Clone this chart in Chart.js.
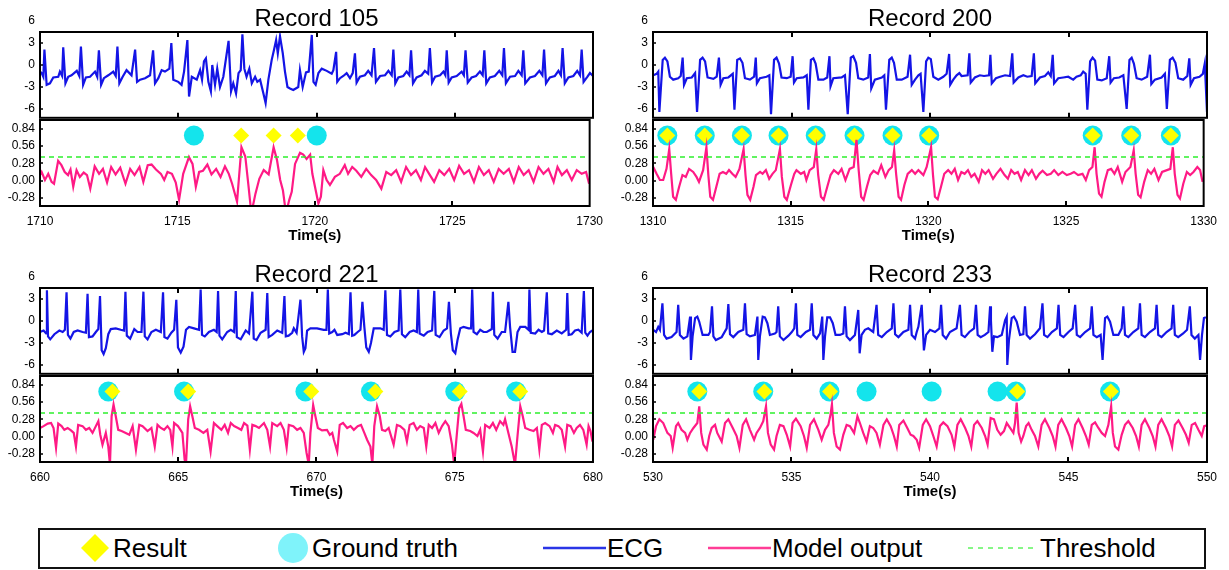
<!DOCTYPE html>
<html>
<head>
<meta charset="utf-8">
<script src="https://cdn.jsdelivr.net/npm/chart.js@4.4.1/dist/chart.umd.min.js"></script>
<style>
  body { margin:0; width:1229px; height:570px; background:#fff; position:relative; overflow:hidden;
         font-family: Arial, "Liberation Sans", sans-serif; color:#000; }
  .plot { position:absolute; }
  .ttl { position:absolute; width:400px; text-align:center; font-size:24px; line-height:24px; }
  #legend { position:absolute; left:38px; top:528px; width:1168px; height:41px; box-sizing:border-box;
            border:2px solid #111; }
  .lg { position:absolute; top:533px; font-size:26px; line-height:30px; white-space:nowrap; }
  .sym { position:absolute; }
</style>
</head>
<body>
<div id="figure"></div>

<div id="legend"></div>
<svg class="sym" style="left:80px;top:533px" width="30" height="30"><polygon points="15,1 29,15 15,29 1,15" fill="#ffff00"/></svg>
<div class="lg" style="left:113px">Result</div>
<svg class="sym" style="left:278px;top:533px" width="30" height="30"><circle cx="15" cy="15" r="15" fill="#7ff3fa"/></svg>
<div class="lg" style="left:312px">Ground truth</div>
<svg class="sym" style="left:543px;top:538px" width="64" height="20"><line x1="0" y1="10" x2="63" y2="10" stroke="#2a35e6" stroke-width="2.5"/></svg>
<div class="lg" style="left:607px">ECG</div>
<svg class="sym" style="left:708px;top:538px" width="64" height="20"><line x1="0" y1="10" x2="63" y2="10" stroke="#ff3d96" stroke-width="2.5"/></svg>
<div class="lg" style="left:772px">Model output</div>
<svg class="sym" style="left:968px;top:538px" width="70" height="20"><line x1="0" y1="10" x2="68" y2="10" stroke="#86f786" stroke-width="2" stroke-dasharray="5 5"/></svg>
<div class="lg" style="left:1040px">Threshold</div>

<script>
// ---- data: [time (s), value] ----
const ecg105 = [[1710.00,-0.9],[1710.06,-1.1],[1710.12,-1.6],[1710.16,2.1],[1710.24,-2.7],[1710.36,-2.5],[1710.48,-1.7],[1710.66,-1.6],[1710.72,-0.9],[1710.80,-1.5],[1710.84,2.4],[1710.92,-2.5],[1711.02,-1.6],[1711.14,-1.4],[1711.33,-0.8],[1711.42,-1.5],[1711.48,2.5],[1711.56,-2.7],[1711.66,-1.7],[1711.81,-1.6],[1711.99,-0.9],[1712.07,-1.6],[1712.13,2.0],[1712.21,-2.7],[1712.31,-1.8],[1712.47,-1.4],[1712.65,-0.9],[1712.74,-1.5],[1712.80,2.5],[1712.87,-2.5],[1712.99,-1.6],[1713.13,-0.7],[1713.31,-1.4],[1713.44,2.1],[1713.51,-2.3],[1713.62,-2.0],[1713.80,-1.8],[1713.98,-1.4],[1714.09,2.0],[1714.16,-2.5],[1714.28,-1.8],[1714.40,-0.7],[1714.52,-0.9],[1714.68,-0.5],[1714.75,3.0],[1714.82,-2.0],[1715.00,-2.3],[1715.12,-2.7],[1715.21,-0.9],[1715.33,3.4],[1715.39,-4.3],[1715.49,-1.6],[1715.67,-2.0],[1715.79,-0.7],[1715.86,-2.0],[1715.93,0.5],[1716.00,0.9],[1716.09,-2.3],[1716.18,-3.6],[1716.23,0.0],[1716.33,-2.7],[1716.41,-0.5],[1716.51,-3.0],[1716.63,-1.6],[1716.82,3.3],[1716.91,-3.6],[1716.99,-2.5],[1717.09,-3.9],[1717.18,-1.1],[1717.26,-0.7],[1717.32,4.2],[1717.39,-0.5],[1717.47,-1.6],[1717.57,-0.5],[1717.66,-2.5],[1717.78,-1.6],[1717.86,-2.3],[1717.96,-2.0],[1718.08,-3.9],[1718.16,-5.2],[1718.26,-2.0],[1718.38,0.7],[1718.46,2.0],[1718.54,3.4],[1718.60,1.6],[1718.68,3.9],[1718.78,1.6],[1718.86,-0.9],[1718.95,-3.0],[1719.04,-3.2],[1719.16,-3.4],[1719.34,-3.0],[1719.40,-0.7],[1719.50,-3.0],[1719.62,-1.0],[1719.72,-0.9],[1719.83,4.1],[1719.89,-2.3],[1719.97,-2.7],[1720.07,-1.1],[1720.19,-0.5],[1720.37,-0.8],[1720.55,-1.2],[1720.61,-0.7],[1720.71,1.8],[1720.75,-2.3],[1720.85,-1.8],[1720.97,-1.5],[1721.09,-1.1],[1721.21,-1.8],[1721.31,-1.1],[1721.39,1.6],[1721.45,-2.4],[1721.57,-1.6],[1721.75,-1.4],[1721.87,-0.8],[1721.99,-1.4],[1722.08,2.3],[1722.15,-2.3],[1722.30,-1.5],[1722.48,-1.4],[1722.60,-0.8],[1722.72,-1.4],[1722.78,2.1],[1722.85,-2.5],[1722.96,-1.7],[1723.14,-1.5],[1723.26,-0.9],[1723.36,-1.4],[1723.42,2.0],[1723.49,-2.5],[1723.62,-1.7],[1723.80,-1.4],[1723.92,-0.8],[1724.04,-1.2],[1724.10,2.3],[1724.18,-2.4],[1724.29,-1.6],[1724.47,-1.4],[1724.59,-0.9],[1724.66,-1.4],[1724.71,2.0],[1724.78,-2.4],[1724.89,-1.7],[1725.07,-1.5],[1725.25,-0.9],[1725.33,-1.4],[1725.39,2.0],[1725.47,-2.4],[1725.61,-1.7],[1725.77,-1.5],[1725.91,-0.9],[1726.01,-1.4],[1726.07,2.0],[1726.14,-2.5],[1726.27,-1.7],[1726.45,-1.5],[1726.61,-0.8],[1726.72,-1.4],[1726.78,2.3],[1726.85,-2.5],[1727.00,-1.6],[1727.18,-1.5],[1727.30,-0.8],[1727.42,-1.4],[1727.48,2.0],[1727.55,-2.5],[1727.72,-1.7],[1727.90,-1.5],[1728.06,-0.8],[1728.17,-1.4],[1728.23,2.1],[1728.30,-2.5],[1728.44,-1.7],[1728.62,-1.5],[1728.75,-0.8],[1728.84,-1.4],[1728.90,2.3],[1728.98,-2.5],[1729.11,-1.7],[1729.29,-1.5],[1729.43,-0.8],[1729.53,-1.4],[1729.59,2.1],[1729.66,-2.3],[1729.80,-1.6],[1729.89,-1.1],[1730.00,-1.5]];
const out105 = [[1710.00,0.09],[1710.06,0.14],[1710.18,0.01],[1710.30,0.11],[1710.42,-0.02],[1710.51,-0.05],[1710.66,0.32],[1710.78,0.25],[1710.90,0.14],[1711.02,0.09],[1711.11,0.18],[1711.21,-0.10],[1711.33,0.17],[1711.45,0.06],[1711.59,0.13],[1711.71,0.09],[1711.83,-0.13],[1711.99,0.23],[1712.15,0.11],[1712.29,0.19],[1712.44,-0.03],[1712.59,0.22],[1712.75,0.10],[1712.92,0.21],[1713.11,-0.05],[1713.28,0.19],[1713.44,0.09],[1713.62,0.22],[1713.76,-0.02],[1713.92,0.25],[1714.06,0.26],[1714.22,0.18],[1714.40,0.11],[1714.52,0.01],[1714.64,0.14],[1714.80,0.11],[1714.94,-0.03],[1715.06,-0.31],[1715.21,0.11],[1715.42,0.38],[1715.55,0.27],[1715.67,-0.10],[1715.79,0.14],[1715.93,0.16],[1716.09,0.26],[1716.24,0.10],[1716.41,0.19],[1716.57,0.06],[1716.73,0.23],[1716.87,0.11],[1716.99,-0.05],[1717.17,-0.34],[1717.33,0.54],[1717.47,0.39],[1717.59,-0.10],[1717.69,-0.53],[1717.84,-0.21],[1717.98,0.03],[1718.14,0.17],[1718.32,0.10],[1718.50,0.54],[1718.62,0.34],[1718.74,0.01],[1718.84,-0.16],[1718.95,-0.53],[1719.07,-0.31],[1719.16,-0.18],[1719.28,0.27],[1719.46,0.45],[1719.58,0.42],[1719.70,0.35],[1719.83,0.42],[1719.91,0.11],[1720.03,-0.15],[1720.13,-0.37],[1720.22,-0.26],[1720.31,0.17],[1720.43,0.01],[1720.55,-0.07],[1720.73,0.06],[1720.91,0.11],[1721.09,0.25],[1721.21,0.11],[1721.36,0.22],[1721.51,0.16],[1721.69,0.06],[1721.87,0.19],[1722.05,0.09],[1722.23,0.01],[1722.42,-0.13],[1722.60,0.14],[1722.78,0.09],[1722.96,0.17],[1723.14,-0.02],[1723.32,0.22],[1723.50,0.09],[1723.68,0.17],[1723.86,0.01],[1724.01,0.22],[1724.16,0.11],[1724.34,-0.02],[1724.53,0.17],[1724.71,0.09],[1724.89,0.19],[1725.07,0.01],[1725.25,0.24],[1725.43,0.11],[1725.61,0.17],[1725.79,-0.02],[1725.97,0.22],[1726.15,0.09],[1726.33,0.17],[1726.51,-0.02],[1726.69,0.19],[1726.87,0.11],[1727.06,0.19],[1727.24,-0.02],[1727.42,0.22],[1727.60,0.09],[1727.78,0.17],[1727.96,-0.02],[1728.14,0.22],[1728.32,0.11],[1728.50,0.19],[1728.69,-0.02],[1728.83,0.22],[1728.99,0.09],[1729.17,0.17],[1729.35,0.01],[1729.53,0.17],[1729.71,0.11],[1729.87,0.14],[1729.98,-0.05]];
const gt105 = [1715.60, 1720.07];
const res105 = [1717.32, 1718.50, 1719.38];

const ecg200 = [[1310.01,-1.4],[1310.13,-1.2],[1310.19,-0.9],[1310.23,-6.4],[1310.35,0.7],[1310.43,1.0],[1310.52,0.5],[1310.61,-1.6],[1310.73,-2.0],[1310.91,-1.8],[1311.00,-1.5],[1311.07,1.0],[1311.12,-2.7],[1311.22,-1.8],[1311.40,-1.7],[1311.52,-1.1],[1311.59,-6.4],[1311.70,0.7],[1311.79,1.0],[1311.88,0.5],[1311.97,-1.7],[1312.18,-1.9],[1312.30,-1.6],[1312.38,1.0],[1312.44,-2.7],[1312.54,-1.8],[1312.72,-1.7],[1312.88,-1.2],[1312.94,-6.1],[1313.04,0.7],[1313.14,0.9],[1313.23,0.3],[1313.32,-1.8],[1313.50,-2.0],[1313.65,-1.6],[1313.71,1.0],[1313.75,-2.5],[1313.86,-1.8],[1314.10,-1.6],[1314.20,-1.4],[1314.26,-6.7],[1314.37,0.7],[1314.46,1.0],[1314.55,0.2],[1314.64,-1.7],[1314.83,-1.8],[1314.97,-1.6],[1315.04,1.2],[1315.09,-2.4],[1315.19,-1.8],[1315.43,-1.7],[1315.55,-1.4],[1315.61,-6.1],[1315.70,0.7],[1315.79,0.9],[1315.87,0.2],[1315.97,-2.0],[1316.15,-2.0],[1316.29,-1.7],[1316.37,1.2],[1316.41,-2.9],[1316.51,-1.8],[1316.81,-1.7],[1316.93,-1.4],[1317.03,-6.7],[1317.14,1.0],[1317.23,1.2],[1317.33,0.3],[1317.41,-1.8],[1317.59,-2.0],[1317.77,-1.7],[1317.83,1.5],[1317.88,-3.2],[1318.01,-2.0],[1318.26,-1.7],[1318.35,-1.4],[1318.41,-6.1],[1318.53,0.7],[1318.62,1.0],[1318.70,0.3],[1318.80,-2.0],[1318.98,-2.0],[1319.19,-1.6],[1319.28,1.4],[1319.34,-2.7],[1319.46,-2.0],[1319.58,-1.4],[1319.66,-1.2],[1319.76,-6.4],[1319.86,0.5],[1319.94,1.0],[1320.03,0.8],[1320.12,-1.6],[1320.30,-2.0],[1320.48,-1.6],[1320.60,-1.2],[1320.69,1.5],[1320.73,-2.7],[1320.84,-2.0],[1320.96,-1.4],[1321.06,-1.1],[1321.14,-1.5],[1321.36,-1.4],[1321.42,1.6],[1321.47,-2.4],[1321.62,-1.7],[1321.80,-1.4],[1321.95,-1.5],[1322.13,-1.4],[1322.18,1.4],[1322.23,-2.5],[1322.38,-1.8],[1322.53,-1.6],[1322.71,-1.4],[1322.89,-1.5],[1322.97,1.6],[1323.02,-2.4],[1323.19,-1.7],[1323.37,-1.4],[1323.51,-1.6],[1323.67,-1.5],[1323.75,1.6],[1323.80,-2.5],[1323.97,-1.7],[1324.15,-1.5],[1324.27,-1.0],[1324.36,-1.5],[1324.43,1.4],[1324.48,-2.5],[1324.63,-1.8],[1324.81,-1.7],[1324.99,-1.6],[1325.17,-2.0],[1325.29,-1.6],[1325.44,-1.4],[1325.53,-0.9],[1325.62,-1.2],[1325.68,-6.1],[1325.78,0.5],[1325.87,1.0],[1325.96,0.6],[1326.04,-2.0],[1326.20,-2.1],[1326.38,-1.8],[1326.47,1.2],[1326.52,-2.4],[1326.64,-1.8],[1326.83,-1.7],[1326.98,-1.4],[1327.10,-6.0],[1327.20,0.7],[1327.28,1.0],[1327.36,0.2],[1327.46,-1.8],[1327.64,-2.0],[1327.84,-1.6],[1327.94,1.4],[1327.99,-2.6],[1328.12,-2.0],[1328.36,-1.7],[1328.48,-1.2],[1328.55,-6.0],[1328.66,0.7],[1328.76,1.0],[1328.86,0.3],[1328.96,-1.8],[1329.14,-2.0],[1329.29,-1.5],[1329.36,0.9],[1329.41,-2.7],[1329.53,-1.8],[1329.73,-1.6],[1329.85,-1.2],[1329.92,0.2],[1330.00,-6.4]];
const out200 = [[1310.01,0.22],[1310.13,0.11],[1310.25,0.01],[1310.37,0.01],[1310.49,0.19],[1310.59,0.51],[1310.66,0.11],[1310.73,-0.26],[1310.83,-0.31],[1310.95,-0.10],[1311.07,0.09],[1311.19,0.06],[1311.31,0.19],[1311.46,0.14],[1311.58,0.06],[1311.67,-0.02],[1311.82,0.17],[1311.94,0.54],[1312.01,0.09],[1312.08,-0.26],[1312.18,-0.31],[1312.30,-0.10],[1312.42,0.11],[1312.54,0.14],[1312.66,0.11],[1312.76,0.17],[1312.88,0.11],[1313.00,0.06],[1313.14,0.19],[1313.29,0.51],[1313.36,0.09],[1313.43,-0.23],[1313.53,-0.31],[1313.65,-0.10],[1313.74,0.09],[1313.89,0.14],[1313.98,0.11],[1314.10,0.17],[1314.22,0.03],[1314.34,0.11],[1314.46,0.17],[1314.61,0.51],[1314.68,0.06],[1314.77,-0.26],[1314.86,-0.31],[1315.01,-0.07],[1315.13,0.11],[1315.21,0.17],[1315.37,0.11],[1315.49,0.14],[1315.57,0.01],[1315.69,0.17],[1315.84,0.22],[1315.93,0.51],[1316.00,0.09],[1316.10,-0.26],[1316.20,-0.31],[1316.33,-0.10],[1316.45,0.09],[1316.57,0.17],[1316.73,0.11],[1316.85,0.19],[1316.99,0.01],[1317.14,0.19],[1317.29,0.22],[1317.39,0.66],[1317.47,0.17],[1317.56,-0.26],[1317.65,-0.31],[1317.77,-0.10],[1317.89,0.09],[1318.01,0.16],[1318.17,0.11],[1318.29,0.25],[1318.44,0.06],[1318.56,0.17],[1318.68,0.22],[1318.76,0.49],[1318.83,0.11],[1318.92,-0.26],[1319.01,-0.31],[1319.13,-0.07],[1319.25,0.11],[1319.40,0.17],[1319.52,0.11],[1319.64,0.17],[1319.82,0.09],[1319.94,0.22],[1320.10,0.54],[1320.17,0.09],[1320.24,-0.26],[1320.34,-0.30],[1320.46,-0.10],[1320.58,0.11],[1320.72,0.17],[1320.84,0.11],[1320.96,0.19],[1321.08,0.01],[1321.20,0.14],[1321.32,0.11],[1321.44,0.17],[1321.56,0.06],[1321.68,0.11],[1321.83,-0.02],[1321.95,0.17],[1322.07,0.11],[1322.19,0.17],[1322.35,0.03],[1322.47,0.11],[1322.62,0.19],[1322.77,0.09],[1322.89,0.03],[1323.01,0.17],[1323.13,0.11],[1323.25,0.14],[1323.37,0.01],[1323.51,0.17],[1323.64,0.09],[1323.76,0.17],[1323.91,0.03],[1324.03,0.11],[1324.15,0.16],[1324.31,0.09],[1324.45,0.11],[1324.57,0.17],[1324.72,0.09],[1324.87,0.14],[1325.03,0.09],[1325.17,0.11],[1325.29,0.14],[1325.44,0.09],[1325.60,0.11],[1325.72,0.01],[1325.84,0.17],[1325.96,0.22],[1326.04,0.54],[1326.11,0.11],[1326.20,-0.21],[1326.29,-0.26],[1326.40,-0.02],[1326.52,0.17],[1326.64,0.19],[1326.76,0.11],[1326.88,0.22],[1327.04,-0.02],[1327.16,0.14],[1327.34,0.22],[1327.46,0.49],[1327.53,0.11],[1327.62,-0.23],[1327.71,-0.27],[1327.84,-0.02],[1327.97,0.17],[1328.09,0.11],[1328.21,0.19],[1328.36,0.01],[1328.49,0.14],[1328.79,0.19],[1328.88,0.54],[1328.95,0.11],[1329.05,-0.23],[1329.14,-0.29],[1329.26,-0.05],[1329.39,0.14],[1329.51,0.09],[1329.63,0.14],[1329.77,0.22],[1329.87,0.17],[1329.96,-0.02]];
const gt200 = [1310.52, 1311.88, 1313.23, 1314.56, 1315.91, 1317.32, 1318.70, 1320.03, 1325.97, 1327.37, 1328.81];
const res200 = [1310.52, 1311.88, 1313.23, 1314.56, 1315.91, 1317.32, 1318.70, 1320.03, 1325.97, 1327.37, 1328.81];

const ecg221 = [[660.00,-1.5],[660.13,-1.3],[660.22,-1.7],[660.25,4.2],[660.29,-2.1],[660.37,-2.5],[660.52,-1.8],[660.70,-1.3],[660.82,-1.5],[660.90,-1.2],[660.96,3.9],[661.01,-1.9],[661.10,-2.4],[661.22,-1.5],[661.36,-1.3],[661.54,-1.5],[661.66,-1.6],[661.72,3.7],[661.77,-2.2],[661.90,-2.1],[662.02,-1.5],[662.11,-1.1],[662.17,3.4],[662.23,-4.0],[662.30,-4.5],[662.38,-3.7],[662.47,-1.8],[662.56,-1.1],[662.74,-1.0],[662.92,-1.2],[663.04,-1.3],[663.09,4.0],[663.14,-2.0],[663.26,-2.4],[663.41,-1.1],[663.53,-1.5],[663.67,-1.5],[663.74,4.0],[663.79,-2.1],[663.89,-2.5],[664.03,-1.5],[664.19,-1.2],[664.37,-1.5],[664.45,3.9],[664.50,-2.2],[664.61,-2.4],[664.75,-1.6],[664.85,-1.2],[664.93,2.9],[664.99,-3.6],[665.09,-4.3],[665.19,-3.5],[665.28,-1.2],[665.39,-0.8],[665.57,-1.0],[665.75,-1.2],[665.81,4.3],[665.86,-1.9],[665.96,-2.1],[666.11,-1.5],[666.29,-1.2],[666.39,-1.5],[666.44,4.1],[666.49,-2.0],[666.59,-2.5],[666.77,-1.5],[666.90,-1.2],[667.02,-1.5],[667.08,4.1],[667.12,-2.2],[667.26,-2.5],[667.44,-1.3],[667.56,-1.7],[667.68,4.0],[667.73,-2.4],[667.83,-2.6],[667.98,-1.6],[668.16,-1.2],[668.22,3.8],[668.27,-2.2],[668.40,-1.9],[668.58,-1.3],[668.76,-1.6],[668.84,3.4],[668.89,-2.1],[668.99,-2.0],[669.12,-1.6],[669.18,-1.0],[669.28,-1.6],[669.42,2.9],[669.48,-2.1],[669.54,-4.2],[669.60,-3.7],[669.66,-1.3],[669.78,-1.0],[670.02,-1.0],[670.26,-1.2],[670.36,-1.2],[670.41,4.3],[670.46,-1.7],[670.57,-1.5],[670.65,-1.2],[670.75,-1.9],[670.93,-1.8],[671.05,-1.6],[671.17,-1.8],[671.23,3.9],[671.29,-2.0],[671.37,-1.9],[671.49,-1.5],[671.59,-1.2],[671.66,2.6],[671.73,-0.8],[671.80,-3.6],[671.89,-4.2],[671.97,-3.0],[672.07,-1.0],[672.31,-1.0],[672.43,-1.2],[672.49,4.2],[672.55,-1.9],[672.67,-2.1],[672.82,-1.5],[672.97,-1.3],[673.03,4.3],[673.09,-1.8],[673.21,-2.2],[673.37,-1.5],[673.51,-1.3],[673.63,-1.5],[673.68,4.3],[673.73,-1.7],[673.88,-2.0],[674.02,-1.5],[674.18,-1.3],[674.26,4.1],[674.31,-1.9],[674.45,-2.2],[674.60,-1.3],[674.72,-1.0],[674.79,2.6],[674.86,-1.7],[674.93,-4.0],[675.02,-4.4],[675.10,-2.6],[675.20,-1.0],[675.32,-0.8],[675.50,-1.0],[675.59,-1.0],[675.63,4.3],[675.68,-1.5],[675.80,-1.8],[675.92,-1.2],[676.04,-1.5],[676.16,-1.5],[676.34,-1.1],[676.38,4.0],[676.43,-1.9],[676.55,-2.4],[676.70,-1.5],[676.82,-1.5],[676.94,2.6],[677.00,-0.8],[677.09,-4.2],[677.18,-4.2],[677.27,-1.5],[677.37,-0.8],[677.55,-0.8],[677.67,-1.2],[677.70,4.3],[677.75,-1.6],[677.91,-1.7],[678.03,-1.2],[678.15,-1.5],[678.23,-1.3],[678.33,3.9],[678.38,-1.7],[678.51,-1.8],[678.69,-1.3],[678.87,-1.7],[679.03,-1.2],[679.07,3.8],[679.12,-1.9],[679.23,-1.8],[679.35,-1.3],[679.47,-1.2],[679.59,-1.6],[679.67,4.1],[679.72,-1.6],[679.80,-2.0],[679.89,-1.5],[679.98,-1.3]];
const out221 = [[660.00,0.14],[660.13,0.17],[660.28,0.21],[660.40,0.22],[660.49,0.14],[660.58,-0.18],[660.66,0.21],[660.78,0.17],[660.88,0.11],[661.00,0.14],[661.12,0.10],[661.22,0.06],[661.30,-0.16],[661.38,0.19],[661.54,0.17],[661.66,0.11],[661.78,0.14],[661.90,0.06],[662.02,0.17],[662.11,0.25],[662.18,0.03],[662.26,-0.13],[662.38,0.06],[662.47,-0.16],[662.53,-0.45],[662.59,0.33],[662.66,0.52],[662.74,0.33],[662.83,0.11],[662.95,0.09],[663.10,0.06],[663.23,0.03],[663.35,0.17],[663.47,-0.21],[663.59,0.19],[663.71,0.17],[663.89,0.09],[664.03,0.14],[664.15,-0.16],[664.25,0.19],[664.37,0.14],[664.49,0.11],[664.61,0.17],[664.71,0.11],[664.79,-0.16],[664.85,0.22],[664.99,0.17],[665.15,0.06],[665.23,-0.37],[665.28,-0.45],[665.36,0.28],[665.43,0.49],[665.51,0.33],[665.60,0.14],[665.75,0.11],[665.91,0.06],[666.05,0.11],[666.17,-0.24],[666.29,0.22],[666.41,0.17],[666.56,0.11],[666.68,0.19],[666.80,0.06],[666.90,0.22],[667.02,0.17],[667.16,0.14],[667.28,0.11],[667.38,0.22],[667.50,0.18],[667.59,-0.21],[667.68,0.19],[667.80,0.17],[667.92,0.14],[668.10,0.22],[668.22,0.11],[668.32,-0.16],[668.40,0.22],[668.58,0.17],[668.70,0.22],[668.82,0.11],[668.92,-0.18],[669.00,0.19],[669.16,0.17],[669.30,0.11],[669.42,0.14],[669.54,0.06],[669.64,-0.26],[669.72,-0.45],[669.78,0.06],[669.88,0.51],[669.96,0.33],[670.05,0.14],[670.20,0.10],[670.38,0.11],[670.48,0.03],[670.57,0.06],[670.63,-0.05],[670.75,-0.24],[670.84,0.19],[670.96,0.22],[671.11,0.14],[671.23,0.17],[671.35,0.11],[671.49,0.17],[671.61,0.19],[671.73,0.06],[671.83,-0.05],[671.95,-0.16],[672.02,-0.45],[672.09,0.17],[672.19,0.49],[672.29,0.33],[672.37,0.11],[672.49,0.09],[672.61,0.14],[672.79,-0.13],[672.91,0.19],[673.03,0.17],[673.18,0.11],[673.27,-0.08],[673.37,0.19],[673.51,0.22],[673.63,0.11],[673.75,0.17],[673.88,0.14],[673.97,-0.16],[674.06,0.19],[674.18,0.14],[674.30,0.22],[674.42,0.06],[674.54,0.17],[674.66,0.25],[674.78,0.17],[674.90,-0.13],[674.98,-0.45],[675.08,0.06],[675.16,0.46],[675.24,0.53],[675.32,0.33],[675.40,0.11],[675.56,0.09],[675.68,0.06],[675.82,0.01],[675.92,0.11],[676.02,-0.24],[676.10,0.19],[676.26,0.14],[676.38,0.22],[676.50,0.11],[676.64,0.25],[676.76,0.19],[676.82,0.28],[676.94,0.06],[677.06,-0.16],[677.18,-0.45],[677.27,0.01],[677.37,0.49],[677.46,0.33],[677.55,0.14],[677.70,0.11],[677.85,0.09],[677.97,0.14],[678.06,-0.21],[678.15,0.19],[678.27,0.22],[678.43,0.17],[678.55,0.06],[678.63,0.19],[678.75,0.17],[678.87,0.11],[678.99,-0.16],[679.07,0.19],[679.19,0.17],[679.31,0.06],[679.41,0.14],[679.53,0.19],[679.65,0.11],[679.77,-0.13],[679.84,0.17],[679.91,0.09],[679.98,-0.08]];
const gt221 = [662.47, 665.21, 669.60, 671.97, 675.02, 677.22];
const res221 = [662.62, 665.36, 669.81, 672.13, 675.18, 677.37];

const ecg233 = [[530.01,-1.2],[530.11,-1.5],[530.19,-0.8],[530.25,-1.2],[530.34,2.4],[530.40,-1.9],[530.49,-2.4],[530.67,-2.2],[530.85,-1.5],[530.91,2.2],[530.97,-1.9],[531.10,-2.4],[531.24,-2.1],[531.34,0.6],[531.37,-5.3],[531.43,-2.1],[531.52,0.4],[531.60,0.6],[531.67,-0.1],[531.79,-1.9],[532.00,-1.9],[532.06,-1.5],[532.13,2.0],[532.18,-2.1],[532.27,-2.6],[532.48,-2.2],[532.66,-1.0],[532.72,2.3],[532.78,-1.8],[532.90,-2.2],[533.08,-1.5],[533.26,-1.2],[533.32,2.4],[533.38,-1.8],[533.50,-2.1],[533.68,-1.9],[533.77,0.6],[533.80,-5.3],[533.86,-2.1],[533.96,0.6],[534.04,0.5],[534.13,-0.3],[534.22,-1.9],[534.40,-1.7],[534.46,-1.5],[534.52,2.0],[534.58,-2.1],[534.71,-2.6],[534.89,-2.0],[535.01,-1.5],[535.10,-1.0],[535.16,2.4],[535.21,-1.9],[535.33,-2.2],[535.52,-1.5],[535.67,-1.2],[535.73,2.4],[535.79,-1.9],[535.91,-2.4],[536.03,-1.7],[536.11,0.6],[536.15,-5.3],[536.21,-2.1],[536.29,0.5],[536.39,0.5],[536.49,-0.3],[536.59,-1.9],[536.75,-1.9],[536.87,-1.7],[536.93,2.0],[536.99,-2.1],[537.11,-2.6],[537.29,-1.9],[537.41,1.5],[537.46,-4.4],[537.53,-1.9],[537.65,-1.2],[537.77,-1.0],[537.95,-1.5],[538.07,2.2],[538.13,-1.9],[538.26,-2.2],[538.44,-1.5],[538.62,-1.0],[538.68,2.4],[538.74,-1.8],[538.86,-2.2],[539.04,-1.5],[539.22,-1.2],[539.28,2.2],[539.34,-1.9],[539.46,-2.4],[539.52,-1.5],[539.58,-0.8],[539.70,2.2],[539.78,-4.0],[539.86,-1.9],[540.00,-1.2],[540.18,-1.5],[540.34,-1.0],[540.40,2.2],[540.46,-1.9],[540.58,-2.4],[540.72,-1.5],[540.96,-1.0],[541.08,2.2],[541.14,-1.9],[541.26,-2.2],[541.42,-1.5],[541.59,-1.0],[541.66,2.2],[541.72,-1.9],[541.83,-2.2],[541.98,-1.9],[542.11,-1.5],[542.17,2.0],[542.20,0.1],[542.25,-4.2],[542.31,-2.1],[542.43,-2.2],[542.59,-1.9],[542.71,0.1],[542.77,0.6],[542.79,-6.0],[542.85,-2.6],[542.95,0.4],[543.03,0.6],[543.13,-0.1],[543.25,-1.9],[543.37,-1.8],[543.43,2.0],[543.49,-1.9],[543.61,-2.4],[543.79,-1.8],[543.97,-1.0],[544.06,2.4],[544.12,-1.9],[544.24,-2.2],[544.40,-1.5],[544.58,-1.0],[544.64,2.2],[544.70,-1.9],[544.82,-2.2],[545.00,-1.5],[545.15,-1.0],[545.24,2.2],[545.30,-1.9],[545.42,-2.2],[545.60,-1.5],[545.78,-1.0],[545.84,2.0],[545.90,-1.9],[546.02,-2.2],[546.16,-1.9],[546.23,-5.3],[546.32,0.4],[546.40,0.6],[546.50,-0.1],[546.62,-1.9],[546.80,-1.9],[546.92,-1.0],[546.98,2.0],[547.04,-1.9],[547.16,-2.2],[547.34,-1.5],[547.52,-1.0],[547.58,2.4],[547.64,-1.9],[547.76,-2.2],[547.94,-1.5],[548.12,-1.0],[548.18,2.2],[548.24,-1.9],[548.36,-2.2],[548.54,-1.5],[548.72,-1.0],[548.78,2.2],[548.84,-1.9],[548.96,-2.2],[549.14,-1.7],[549.28,-1.2],[549.38,2.0],[549.44,-1.9],[549.56,-2.4],[549.69,-1.9],[549.75,-5.3],[549.82,-1.9],[549.89,0.4],[549.96,0.5]];
const out233 = [[530.01,-0.05],[530.11,0.17],[530.23,0.28],[530.37,0.22],[530.52,0.06],[530.64,0.01],[530.71,-0.18],[530.83,0.17],[530.91,0.22],[531.03,0.11],[531.16,0.06],[531.24,-0.05],[531.34,0.06],[531.46,0.14],[531.60,0.22],[531.67,0.49],[531.74,0.06],[531.82,-0.13],[531.94,-0.21],[532.03,0.01],[532.12,0.14],[532.24,0.19],[532.32,0.06],[532.48,-0.08],[532.60,0.22],[532.72,0.28],[532.88,0.14],[533.02,0.01],[533.12,-0.18],[533.24,0.19],[533.36,0.28],[533.50,0.11],[533.65,-0.05],[533.74,0.06],[533.86,0.14],[533.98,0.25],[534.08,0.49],[534.15,0.06],[534.25,-0.13],[534.37,-0.21],[534.46,0.01],[534.58,0.19],[534.71,0.17],[534.83,0.03],[534.95,-0.16],[535.04,0.22],[535.16,0.29],[535.33,0.17],[535.45,0.01],[535.55,-0.18],[535.67,0.19],[535.81,0.28],[535.97,0.11],[536.09,-0.05],[536.21,0.11],[536.33,0.19],[536.41,0.36],[536.46,0.52],[536.53,0.06],[536.63,-0.16],[536.75,-0.21],[536.87,0.03],[536.99,0.19],[537.11,0.17],[537.26,0.06],[537.38,0.33],[537.47,0.22],[537.59,0.06],[537.71,-0.08],[537.83,0.17],[537.95,0.14],[538.07,0.06],[538.19,-0.13],[538.32,0.19],[538.44,0.28],[538.58,0.17],[538.70,0.01],[538.80,-0.16],[538.89,0.19],[539.04,0.26],[539.18,0.14],[539.30,0.03],[539.40,0.01],[539.52,-0.05],[539.61,-0.18],[539.74,0.19],[539.86,0.28],[540.00,0.17],[540.12,0.01],[540.24,-0.16],[540.36,0.17],[540.48,0.23],[540.63,0.17],[540.78,0.03],[540.88,-0.16],[540.99,0.19],[541.11,0.28],[541.27,0.14],[541.39,0.01],[541.49,-0.16],[541.59,0.19],[541.71,0.25],[541.87,0.14],[541.99,0.01],[542.08,-0.13],[542.19,0.30],[542.31,0.28],[542.43,0.11],[542.55,0.03],[542.67,0.09],[542.77,0.22],[542.89,0.14],[543.01,0.06],[543.07,0.22],[543.13,0.55],[543.20,0.06],[543.29,-0.08],[543.37,0.01],[543.47,0.17],[543.56,0.22],[543.67,0.11],[543.79,0.01],[543.91,-0.16],[544.03,0.19],[544.15,0.28],[544.31,0.14],[544.43,0.01],[544.53,-0.16],[544.63,0.19],[544.75,0.28],[544.91,0.14],[545.03,0.01],[545.13,-0.16],[545.24,0.19],[545.36,0.28],[545.51,0.14],[545.63,0.01],[545.73,-0.13],[545.84,0.19],[545.96,0.23],[546.08,0.14],[546.20,0.06],[546.32,0.01],[546.44,0.19],[546.54,0.49],[546.60,0.06],[546.68,-0.16],[546.80,-0.21],[546.92,0.03],[547.04,0.19],[547.16,0.25],[547.32,0.14],[547.44,0.01],[547.54,-0.16],[547.64,0.19],[547.76,0.28],[547.92,0.14],[548.04,0.01],[548.14,-0.16],[548.24,0.19],[548.36,0.28],[548.52,0.14],[548.64,0.01],[548.74,-0.16],[548.84,0.19],[548.97,0.26],[549.12,0.14],[549.24,0.03],[549.34,-0.10],[549.45,0.19],[549.57,0.22],[549.69,0.11],[549.81,0.01],[549.90,0.17],[549.97,0.18]];
const gt233 = [531.60, 533.98, 536.37, 537.71, 540.06, 542.44, 543.10, 546.50];
const res233 = [531.67, 534.02, 536.39, 543.15, 546.53];

const ECG_TICKS = [6, 3, 0, -3, -6];
const OUT_TICKS = [0.84, 0.56, 0.28, 0.00, -0.28];
const THRESHOLD = 0.38;
const MARK_Y = 0.73;

// ---- layout ----
const ECG_RANGE = [-7.2, 4.5];
const OUT_RANGE = [-0.41, 0.98];
const AXIS_W = 45, PAD_T = 26, PAD_R = 18, PAD_B = 12, XAXIS_H = 40;

const panels = [
  { title: 'Record 105', ecg: ecg105, out: out105, gt: gt105, res: res105, t0: 1710, left: 40,  width: 553, top: 32 },
  { title: 'Record 200', ecg: ecg200, out: out200, gt: gt200, res: res200, t0: 1310, left: 653, width: 554, top: 32 },
  { title: 'Record 221', ecg: ecg221, out: out221, gt: gt221, res: res221, t0: 660,  left: 40,  width: 553, top: 288 },
  { title: 'Record 233', ecg: ecg233, out: out233, gt: gt233, res: res233, t0: 530,  left: 653, width: 554, top: 288 },
];
const ECG_H = 86, GAP = 2, OUT_H = 86;

Chart.defaults.font.family = 'Arial, "Liberation Sans", sans-serif';
Chart.defaults.color = '#000';

// box frame + inward tick marks
const framePlugin = {
  id: 'frame',
  afterDatasetsDraw(chart, args, opts) {
    const { ctx, chartArea: a, scales } = chart;
    const line = (x1, y1, x2, y2) => { ctx.beginPath(); ctx.moveTo(x1, y1); ctx.lineTo(x2, y2); ctx.stroke(); };
    ctx.save();
    ctx.strokeStyle = '#000';
    ctx.lineWidth = 2;
    (opts.xMarks || []).forEach(v => {
      const px = Math.round(scales.x.getPixelForValue(v));
      if (opts.topMarks) line(px, a.top, px, a.top + 5);
      line(px, a.bottom, px, a.bottom - 5);
    });
    ctx.lineWidth = 1.5;
    (opts.yMarks || []).forEach(v => {
      const py = Math.round(scales.y.getPixelForValue(v));
      if (py > a.top + 2 && py < a.bottom - 2) line(a.left, py, a.left + 3, py);
    });
    ctx.lineWidth = 2;
    ctx.strokeRect(a.left, a.top, a.right - a.left, a.bottom - a.top);
    ctx.restore();
  }
};

function addCanvas(left, top, w, h) {
  const div = document.createElement('div');
  div.className = 'plot';
  Object.assign(div.style, { left: left + 'px', top: top + 'px', width: w + 'px', height: h + 'px' });
  const cv = document.createElement('canvas');
  div.appendChild(cv);
  document.getElementById('figure').appendChild(div);
  return cv;
}

function yScale(range, ticks, fmt) {
  return {
    min: range[0], max: range[1],
    afterFit: s => { s.width = AXIS_W; },
    afterBuildTicks: s => { s.ticks = ticks.map(v => ({ value: v })); },
    grid: { display: false, drawTicks: false },
    border: { display: false },
    ticks: { autoSkip: false, padding: 5, font: { size: 12 }, color: '#000', callback: fmt }
  };
}

panels.forEach(p => {
  const xMin = p.t0, xMax = p.t0 + 20;
  const xMarks = [xMin + 5, xMin + 10, xMin + 15];
  const outTop = p.top + ECG_H + GAP;
  const cw = AXIS_W + p.width + PAD_R;

  // title
  const t = document.createElement('div');
  t.className = 'ttl';
  t.textContent = p.title;
  t.style.left = (p.left + p.width / 2 - 200) + 'px';
  t.style.top = (p.top - 26) + 'px';
  document.body.appendChild(t);

  // ECG subplot
  new Chart(addCanvas(p.left - AXIS_W, p.top - PAD_T, cw, PAD_T + ECG_H + PAD_B), {
    type: 'line',
    data: { datasets: [{
      data: p.ecg.map(([x, y]) => ({ x, y })),
      borderColor: '#1414e6', borderWidth: 2.2, pointRadius: 0, tension: 0
    }]},
    options: {
      animation: false, responsive: true, maintainAspectRatio: false,
      layout: { padding: { left: 0, top: PAD_T, right: PAD_R, bottom: PAD_B } },
      plugins: { legend: { display: false }, tooltip: { enabled: false },
                 frame: { xMarks, topMarks: true, yMarks: ECG_TICKS } },
      scales: {
        x: { type: 'linear', min: xMin, max: xMax, display: false },
        y: yScale(ECG_RANGE, ECG_TICKS, v => String(v))
      }
    },
    plugins: [framePlugin]
  });

  // model output subplot
  new Chart(addCanvas(p.left - AXIS_W, outTop - PAD_T, cw, PAD_T + OUT_H + XAXIS_H), {
    type: 'line',
    data: { datasets: [
      { type: 'scatter', data: p.gt.map(x => ({ x, y: MARK_Y })), pointStyle: 'circle', pointRadius: 10,
        backgroundColor: '#14e4ec', pointBorderWidth: 0, order: 3 },
      { type: 'scatter', data: p.res.map(x => ({ x, y: MARK_Y })), pointStyle: 'rectRot', pointRadius: 8,
        backgroundColor: '#ffff00', pointBorderWidth: 0, order: 2 },
      { data: p.out.map(([x, y]) => ({ x, y })), borderColor: '#ff1a85', borderWidth: 2.2,
        pointRadius: 0, tension: 0, order: 1 },
      { data: [{ x: xMin, y: THRESHOLD }, { x: xMax, y: THRESHOLD }], borderColor: '#2ef02e',
        borderWidth: 1.5, borderDash: [5, 4], pointRadius: 0, order: 0 }
    ]},
    options: {
      animation: false, responsive: true, maintainAspectRatio: false,
      layout: { padding: { left: 0, top: PAD_T, right: PAD_R, bottom: 0 } },
      plugins: { legend: { display: false }, tooltip: { enabled: false },
                 frame: { xMarks, topMarks: false, yMarks: OUT_TICKS } },
      scales: {
        x: {
          type: 'linear', min: xMin, max: xMax,
          afterFit: s => { s.height = XAXIS_H; },
          grid: { display: false, drawTicks: false },
          border: { display: false },
          ticks: { stepSize: 5, padding: 8, autoSkip: false, maxRotation: 0, font: { size: 12 }, color: '#000',
                   callback: v => String(v) },
          title: { display: true, text: 'Time(s)', color: '#000', font: { size: 15, weight: 'bold' },
                   padding: { top: 0, bottom: 1 } }
        },
        y: yScale(OUT_RANGE, OUT_TICKS, v => v.toFixed(2))
      }
    },
    plugins: [framePlugin]
  });
});
</script>
</body>
</html>
